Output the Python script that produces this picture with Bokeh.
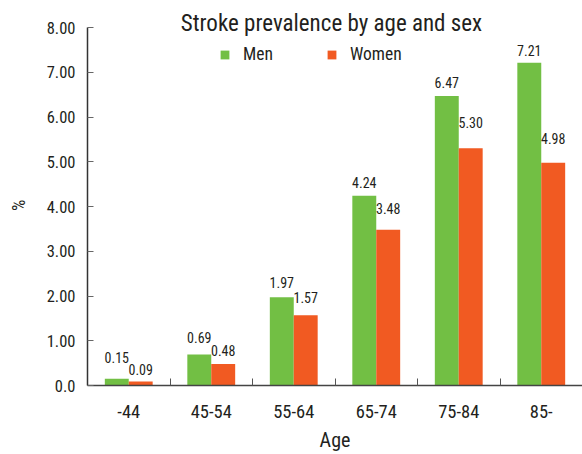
from bokeh.plotting import figure
from bokeh.models import (ColumnDataSource, FixedTicker, Label, Legend, LegendItem,
                          LabelSet)
from bokeh.core.properties import value
from bokeh.transform import dodge
from bokeh.embed import file_html
from bokeh.resources import INLINE
import numpy as np

# Stroke prevalence (%) by age group and sex
ages = ["-44", "45-54", "55-64", "65-74", "75-84", "85-"]
men = [0.15, 0.69, 1.97, 4.24, 6.47, 7.21]
women = [0.09, 0.48, 1.57, 3.48, 5.30, 4.98]
y_ticks = [0, 1, 2, 3, 4, 5, 6, 7, 8]

FONT = "Roboto Condensed, Liberation Sans Narrow, Roboto, sans-serif"
INK = "#231F20"
GREEN = "#72BF44"
ORANGE = "#F15A22"

# vertical gap (px) between each bar top and its value label
men_gap = [16, 12, 9, 8, 8, 7]
women_gap = [6, 8, 12, 16, 20, 19]

centers = np.arange(len(ages)) + 0.5
src = ColumnDataSource(dict(
    x=centers, men=men, women=women,
    men_txt=[f"{v:.2f}" for v in men], women_txt=[f"{v:.2f}" for v in women],
    men_gap=men_gap, women_gap=women_gap,
))

# frame runs to the top edge so the heading can sit above the 8.00 line
Y_TOP = 385 / 44.75
p = figure(width=582, height=454, output_backend="svg", toolbar_location=None,
           x_range=(0, len(ages)), y_range=(0, Y_TOP),
           min_border_left=87, min_border_right=0, min_border_top=0,
           min_border_bottom=69)
p.outline_line_color = None
p.grid.visible = False
p.background_fill_color = "white"
p.border_fill_color = "white"

bw = 0.29
r_men = p.vbar(x=dodge("x", -0.145, range=p.x_range), top="men", width=bw,
               source=src, fill_color=GREEN, line_color=None)
r_women = p.vbar(x=dodge("x", 0.145, range=p.x_range), top="women", width=bw,
                 source=src, fill_color=ORANGE, line_color=None)

for col, off in (("men", -0.145), ("women", 0.145)):
    p.add_layout(LabelSet(x=dodge("x", off, range=p.x_range), y=col, text=f"{col}_txt",
                          y_offset=f"{col}_gap", source=src, text_align="center",
                          text_baseline="alphabetic", text_font=value(FONT),
                          text_font_size=value("14px"), text_color=INK))

# x axis: category names at the centres, small ticks at the group boundaries
xa = p.xaxis[0]
xa.ticker = FixedTicker(ticks=list(centers), minor_ticks=list(range(1, len(ages) + 1)))
xa.major_label_overrides = {float(c): a for c, a in zip(centers, ages)}
xa.major_tick_line_color = None
xa.minor_tick_in = 7
xa.minor_tick_out = 0
xa.minor_tick_line_color = "#555555"
xa.axis_line_color = "#444444"
xa.axis_line_width = 1.5
xa.major_label_text_font = FONT
xa.major_label_text_font_size = "18.5px"
xa.major_label_text_color = INK
xa.major_label_standoff = 13
xa.axis_label = "Age"
xa.axis_label_text_font = FONT
xa.axis_label_text_font_size = "20px"
xa.axis_label_text_font_style = "normal"
xa.axis_label_text_color = INK
xa.axis_label_standoff = 7

ya = p.yaxis[0]
ya.ticker = FixedTicker(ticks=y_ticks, minor_ticks=[])
ya.bounds = (0, 8)
ya.major_label_overrides = {t: ("0.0" if t == 0 else f"{t:.2f}") for t in y_ticks}
ya.major_tick_in = 6
ya.major_tick_out = 0
ya.major_tick_line_color = "#666666"
ya.axis_line_color = "#333333"
ya.axis_line_width = 1.5
ya.major_label_text_font = FONT
ya.major_label_text_font_size = "16.5px"
ya.major_label_text_color = INK
ya.major_label_standoff = 12
# trailing no-break spaces nudge the rotated "%" down to the middle of 0–8
ya.axis_label = "%" + "\u00a0" * 6
ya.axis_label_text_font = FONT
ya.axis_label_text_font_size = "18px"
ya.axis_label_text_font_style = "normal"
ya.axis_label_text_color = INK
ya.axis_label_standoff = 15

p.add_layout(Label(x=244, y=362, x_units="screen", y_units="screen",
                   text="Stroke prevalence by age and sex", text_align="center",
                   text_baseline="alphabetic", text_font=FONT, text_font_size="23px",
                   text_color=INK))

legend = Legend(items=[LegendItem(label="Men", renderers=[r_men]),
                       LegendItem(label="Women", renderers=[r_women])],
                orientation="horizontal", location=(132, 321),
                glyph_width=11, glyph_height=11, label_standoff=13, spacing=53,
                padding=0, margin=0, border_line_color=None,
                background_fill_alpha=0, label_text_font=FONT,
                label_text_font_size="17.5px", label_text_color=INK)
p.add_layout(legend)

open("out.html", "w").write(file_html(p, INLINE))
